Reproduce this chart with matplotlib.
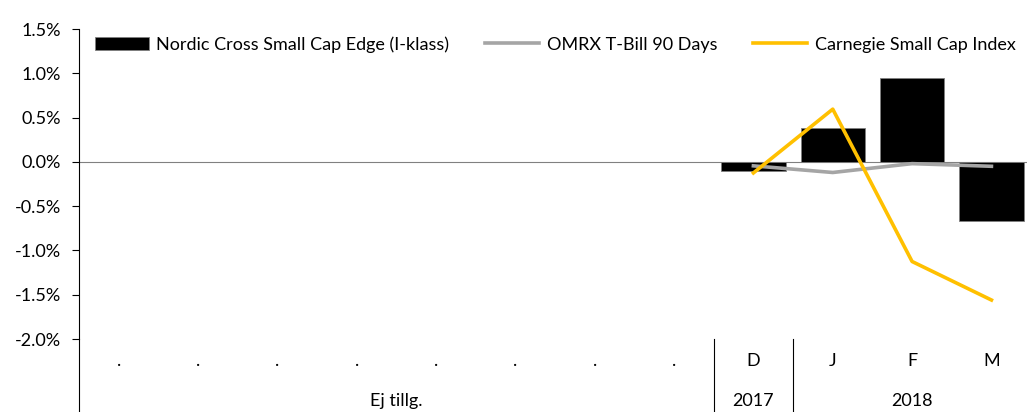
import matplotlib.pyplot as plt
import numpy as np

plt.rcParams["font.family"] = ["Lato", "DejaVu Sans"]

# Data
months = [".", ".", ".", ".", ".", ".", ".", ".", "D", "J", "F", "M"]
groups = ["Ej tillg.", "2017", "2018"]
group_spans = [(0, 7), (8, 8), (9, 11)]
fund = [np.nan] * 8 + [-0.10, 0.385, 0.945, -0.67]
tbill = [np.nan] * 8 + [-0.045, -0.12, -0.02, -0.05]
carnegie = [np.nan] * 8 + [-0.125, 0.595, -1.125, -1.56]
yticks = [-2.0, -1.5, -1.0, -0.5, 0.0, 0.5, 1.0, 1.5]

x = np.arange(len(months))

fig = plt.figure(figsize=(10.27, 4.12), dpi=100)
ax = fig.add_axes([79 / 1027, 73 / 412, 1 - 79 / 1027 + 0.004, 310 / 412])

b = ax.bar(x, fund, width=0.81, color="black", edgecolor="#808080", linewidth=0.6,
           label="Nordic Cross Small Cap Edge (I-klass)", zorder=2)
l1, = ax.plot(x, tbill, color="#A5A5A5", linewidth=2.6, label="OMRX T-Bill 90 Days", zorder=3)
l2, = ax.plot(x, carnegie, color="#FFC000", linewidth=2.6, label="Carnegie Small Cap Index", zorder=4)

ax.axhline(0, color="#808080", linewidth=0.8, zorder=1)

ax.set_xlim(-0.5, len(months) - 0.5)
ax.set_ylim(-2.0, 1.5)
ax.set_yticks(yticks)
ax.set_yticklabels([f"{v:.1f}%" for v in yticks], fontsize=13)
ax.tick_params(axis="y", direction="out", length=5, width=0.8, pad=8)
ax.set_xticks([])

for s in ["top", "right", "bottom"]:
    ax.spines[s].set_visible(False)
ax.spines["left"].set_linewidth(0.8)

# multi-level category axis below the plot
trans = ax.get_xaxis_transform()
for i, m in enumerate(months):
    ax.text(i, -0.07, m, transform=trans, ha="center", va="center", fontsize=13)
for g, (a, e) in zip(groups, group_spans):
    ax.text((a + e) / 2, -0.2, g, transform=trans, ha="center", va="center", fontsize=13)
for xb in [-0.5, 7.5, 8.5]:
    ax.plot([xb, xb], [0, -0.25], transform=trans, color="black", linewidth=0.8, clip_on=False)

ax.legend([b, l1, l2], [b.get_label(), l1.get_label(), l2.get_label()],
          loc="upper center", bbox_to_anchor=(0.5, 1.03), ncol=3, frameon=False,
          fontsize=13, handlelength=3, columnspacing=2, handletextpad=0.4)

fig.savefig("out.png", dpi=100)
